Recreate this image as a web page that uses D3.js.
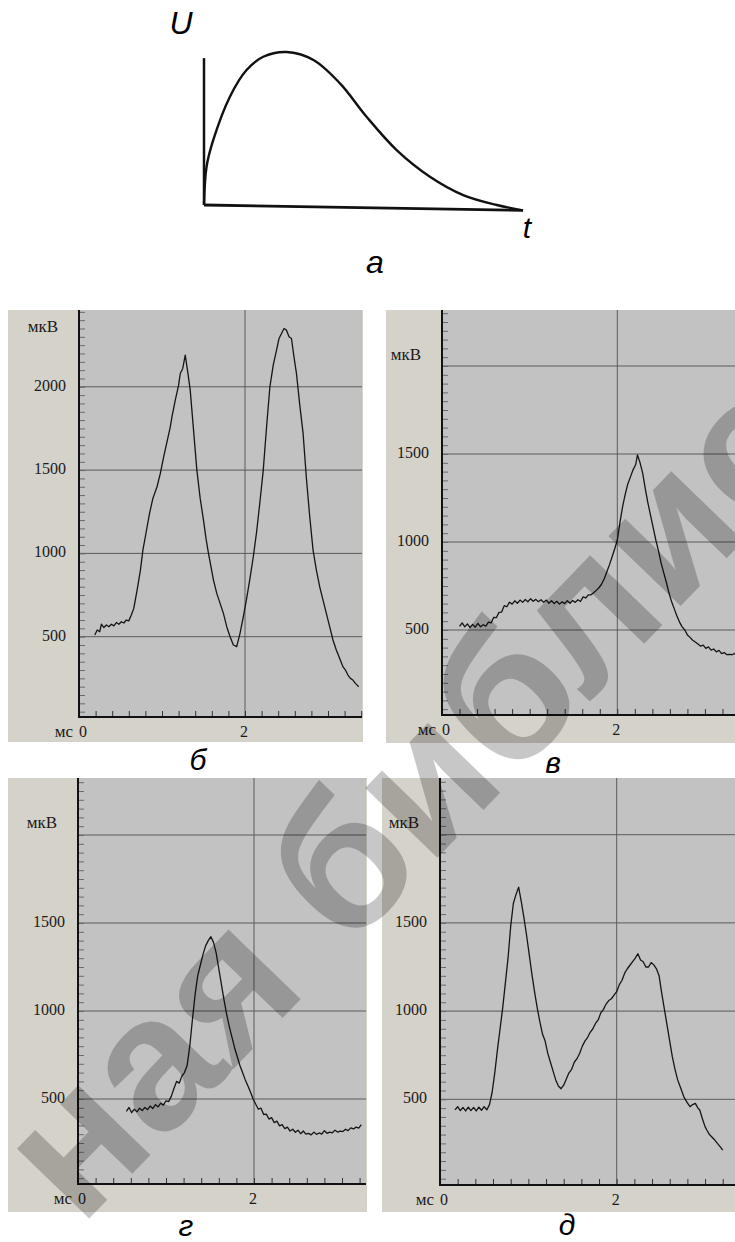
<!DOCTYPE html>
<html>
<head>
<meta charset="utf-8">
<script src="https://cdn.jsdelivr.net/npm/d3@7"></script>
<style>
  html, body { margin: 0; padding: 0; background: #fff; }
  svg { display: block; }
</style>
</head>
<body>
<svg id="chart" width="735" height="1242"></svg>
<script>
"use strict";

// --- data ---

// sketch (а): generic potential shape, arbitrary units
const sketchT = [0, 0.08, 0.29, 0.81, 1.33, 1.85, 2.58, 3.42, 4.25, 5.08, 6.02, 7.06, 8.10, 9.15, 9.97];
const sketchU = [0, 25, 42.5, 70.8, 88.2, 96.9, 100, 94.8, 79.5, 57.7, 35.9, 18.5, 6.5, 0, -3.5];
const sketchAxisTop = 96;

// oscillograms, time in ms, amplitude in мкВ
const timeB = [0.19, 0.22, 0.25, 0.27, 0.30, 0.33, 0.36, 0.39, 0.42, 0.45, 0.48, 0.51, 0.54, 0.57, 0.60, 0.63, 0.66,
  0.70, 0.74, 0.77, 0.81, 0.85, 0.89, 0.94, 0.98, 1.02, 1.06, 1.10, 1.12, 1.16, 1.20, 1.22, 1.25, 1.28, 1.31, 1.34,
  1.38, 1.42, 1.46, 1.50, 1.53, 1.56, 1.59, 1.62, 1.66, 1.70, 1.74, 1.78, 1.82, 1.86, 1.90, 1.94, 1.98, 2.02, 2.06,
  2.10, 2.14, 2.18, 2.22, 2.26, 2.30, 2.34, 2.38, 2.41, 2.44, 2.47, 2.50, 2.53, 2.56, 2.59, 2.62, 2.66, 2.70, 2.74,
  2.78, 2.82, 2.86, 2.90, 2.94, 2.98, 3.02, 3.06, 3.10, 3.14, 3.18, 3.21, 3.24, 3.27, 3.30, 3.33, 3.37];
const valueB = [510, 540, 530, 575, 555, 570, 560, 575, 565, 585, 575, 590, 582, 600, 595, 630, 670,
  780, 900, 1020, 1130, 1240, 1330, 1400, 1480, 1580, 1670, 1760, 1820, 1920, 2010, 2080, 2110, 2190, 2090, 1980,
  1740, 1500, 1330, 1200, 1090, 1000, 920, 840, 760, 700, 640, 560, 500, 450, 440, 520, 620, 730, 850,
  980, 1130, 1310, 1500, 1760, 2000, 2130, 2220, 2290, 2320, 2350, 2340, 2300, 2290, 2180, 2080, 1890, 1720, 1450,
  1220, 1020, 900, 800, 720, 640, 560, 480, 420, 370, 320, 300, 270, 250, 240, 220, 200];

const timeV = [0.20, 0.23, 0.26, 0.29, 0.32, 0.35, 0.38, 0.41, 0.44, 0.47, 0.50, 0.53, 0.56, 0.59, 0.62, 0.65, 0.68,
  0.71, 0.74, 0.77, 0.80, 0.83, 0.86, 0.89, 0.92, 0.95, 0.98, 1.01, 1.04, 1.07, 1.10, 1.13, 1.16, 1.19, 1.22, 1.25,
  1.28, 1.31, 1.34, 1.37, 1.40, 1.43, 1.46, 1.49, 1.52, 1.55, 1.58, 1.61, 1.64, 1.67, 1.70, 1.73, 1.76, 1.79, 1.82,
  1.85, 1.88, 1.91, 1.94, 1.97, 2.00, 2.03, 2.06, 2.09, 2.12, 2.15, 2.18, 2.21, 2.23, 2.26, 2.29, 2.32, 2.35, 2.38,
  2.41, 2.44, 2.47, 2.50, 2.53, 2.56, 2.59, 2.62, 2.65, 2.68, 2.71, 2.74, 2.77, 2.80, 2.83, 2.86, 2.89, 2.92, 2.95,
  2.98, 3.01, 3.04, 3.07, 3.10, 3.13, 3.16, 3.19, 3.22, 3.25, 3.28, 3.31, 3.35];
const valueV = [520, 540, 518, 535, 514, 532, 516, 538, 518, 530, 522, 545, 540, 572, 570, 600, 602,
  638, 632, 658, 647, 666, 652, 670, 657, 673, 660, 678, 663, 674, 661, 672, 657, 670, 652, 666,
  650, 663, 647, 660, 650, 666, 652, 668, 657, 672, 662, 688, 682, 700, 700, 712, 725, 740, 760,
  790, 830, 870, 915, 960, 1010, 1110, 1200, 1270, 1330, 1370, 1410, 1440, 1495, 1450, 1390, 1300, 1220, 1150,
  1080, 1010, 950, 880, 825, 770, 710, 660, 620, 580, 545, 518, 500, 472, 458, 442, 432, 420, 408,
  414, 396, 404, 386, 392, 376, 384, 366, 372, 360, 362, 360, 368];

const timeG = [0.55, 0.58, 0.61, 0.64, 0.67, 0.70, 0.73, 0.76, 0.79, 0.82, 0.85, 0.88, 0.91, 0.94, 0.97, 1.00, 1.03,
  1.06, 1.09, 1.12, 1.15, 1.18, 1.21, 1.24, 1.27, 1.30, 1.33, 1.36, 1.39, 1.42, 1.45, 1.48, 1.51, 1.54, 1.57, 1.60,
  1.63, 1.66, 1.69, 1.72, 1.75, 1.78, 1.81, 1.84, 1.87, 1.90, 1.93, 1.96, 1.99, 2.02, 2.05, 2.08, 2.11, 2.14, 2.17,
  2.20, 2.23, 2.26, 2.29, 2.32, 2.35, 2.38, 2.41, 2.44, 2.47, 2.50, 2.53, 2.56, 2.59, 2.62, 2.65, 2.68, 2.71, 2.74,
  2.77, 2.80, 2.83, 2.86, 2.89, 2.92, 2.95, 2.98, 3.01, 3.04, 3.07, 3.10, 3.13, 3.16, 3.19, 3.22];
const valueG = [430, 452, 422, 442, 427, 448, 434, 452, 440, 460, 446, 468, 455, 476, 465, 490, 485,
  515, 560, 600, 590, 630, 650, 690, 800, 950, 1090, 1200, 1260, 1320, 1370, 1400, 1422, 1390, 1330, 1240,
  1150, 1060, 980, 910, 850, 790, 740, 690, 650, 610, 575, 540, 500, 470, 442, 448, 412, 414, 386,
  394, 366, 374, 347, 354, 332, 340, 318, 328, 311, 323, 303, 318, 300, 305, 296, 312, 299, 307,
  301, 320, 305, 312, 308, 323, 312, 318, 315, 328, 320, 336, 330, 340, 335, 355];

const timeD = [0.17, 0.20, 0.23, 0.26, 0.29, 0.32, 0.35, 0.38, 0.41, 0.44, 0.47, 0.50, 0.53, 0.56, 0.59, 0.62, 0.65,
  0.68, 0.71, 0.74, 0.77, 0.80, 0.83, 0.86, 0.89, 0.92, 0.95, 0.98, 1.01, 1.04, 1.07, 1.10, 1.13, 1.16, 1.19, 1.22,
  1.25, 1.28, 1.31, 1.34, 1.37, 1.40, 1.43, 1.46, 1.49, 1.52, 1.55, 1.58, 1.61, 1.64, 1.67, 1.70, 1.73, 1.76, 1.79,
  1.82, 1.85, 1.88, 1.91, 1.94, 1.97, 2.00, 2.03, 2.06, 2.09, 2.12, 2.15, 2.18, 2.21, 2.24, 2.27, 2.30, 2.33, 2.36,
  2.39, 2.42, 2.45, 2.48, 2.51, 2.54, 2.57, 2.60, 2.63, 2.66, 2.69, 2.72, 2.76, 2.80, 2.83, 2.86, 2.89, 2.92, 2.94,
  2.97, 3.00, 3.02, 3.05, 3.08, 3.11, 3.14, 3.17, 3.20];
const valueD = [440, 458, 436, 454, 434, 456, 436, 454, 434, 456, 438, 458, 440, 470, 540, 650, 780,
  900, 1020, 1160, 1300, 1480, 1610, 1660, 1703, 1620, 1530, 1430, 1320, 1210, 1110, 1020, 940, 870, 830, 760,
  710, 660, 610, 575, 560, 580, 615, 650, 670, 710, 730, 760, 800, 830, 850, 880, 900, 930, 950,
  990, 1010, 1040, 1060, 1070, 1090, 1110, 1150, 1175, 1215, 1240, 1260, 1280, 1300, 1325, 1290, 1280, 1250, 1250,
  1275, 1262, 1240, 1200, 1100, 1010, 920, 830, 740, 670, 610, 570, 514, 480, 458, 470, 477, 450, 439,
  390, 345, 326, 300, 285, 269, 250, 232, 212];

const yTickLabels = [500, 1000, 1500, 2000];
const xTickLabels = [0, 2];
const unitY = "мкВ";
const unitX = "мс";
const captions = ["а", "б", "в", "г", "д"];

// --- layout (pixels) ---
const panels = [
  { left: 8, top: 310, right: 363, bottom: 742, axisX: 79, axisY: 717, zeroY: 720, y500: 636.7, gridX: 245,
    unitBase: 332, capX: 198, capY: 770, times: timeB, values: valueB, caption: captions[1] },
  { left: 386, top: 310, right: 745, bottom: 743, axisX: 442, axisY: 715, zeroY: 718, y500: 630, gridX: 617.3,
    unitBase: 360, capX: 553, capY: 773, times: timeV, values: valueV, caption: captions[2] },
  { left: 8, top: 778, right: 367, bottom: 1212, axisX: 78, axisY: 1184, zeroY: 1187, y500: 1099, gridX: 254,
    unitBase: 828, capX: 186, capY: 1236, times: timeG, values: valueG, caption: captions[3] },
  { left: 382, top: 778, right: 745, bottom: 1212, axisX: 440, axisY: 1185, zeroY: 1187.5, y500: 1099.3, gridX: 616.7,
    unitBase: 828, capX: 567, capY: 1235, times: timeD, values: valueD, caption: captions[4] },
];

const svg = d3.select("#chart");
const labelFont = "'Liberation Serif', 'DejaVu Serif', serif";
const captionFont = "'Liberation Sans', Arial, sans-serif";

// --- sketch а ---
const sx = d3.scaleLinear().domain([0, 10]).range([204, 524]);
const sy = d3.scaleLinear().domain([0, 100]).range([205, 52]);
const sketch = svg.append("g");

sketch.append("line")
  .attr("x1", sx(0)).attr("y1", sy(0))
  .attr("x2", sx(0)).attr("y2", sy(sketchAxisTop))
  .attr("stroke", "#111").attr("stroke-width", 2.5);

sketch.append("line")
  .attr("x1", sx(0)).attr("y1", sy(0))
  .attr("x2", sx(sketchT[sketchT.length - 1])).attr("y2", sy(sketchU[sketchU.length - 1]))
  .attr("stroke", "#111").attr("stroke-width", 2.8);

sketch.append("path")
  .datum(d3.zip(sketchT, sketchU))
  .attr("fill", "none").attr("stroke", "#111").attr("stroke-width", 2.4)
  .attr("d", d3.line().x(d => sx(d[0])).y(d => sy(d[1])).curve(d3.curveCatmullRom.alpha(0.5)));

sketch.append("text").attr("x", 181).attr("y", 34).attr("text-anchor", "middle")
  .style("font", "italic 32px " + captionFont).text("U");
sketch.append("text").attr("x", 527).attr("y", 238).attr("text-anchor", "middle")
  .style("font", "italic 30px " + captionFont).text("t");
sketch.append("text").attr("x", 375).attr("y", 273).attr("text-anchor", "middle")
  .style("font", "italic 32px " + captionFont).text(captions[0]);

// --- oscillogram panels ---
function drawPanel(p) {
  const g = svg.append("g");
  const x = d3.scaleLinear().domain([0, 2]).range([p.axisX, p.gridX]);
  const y = d3.scaleLinear().domain([0, 500]).range([p.zeroY, p.y500]);
  const tMax = x.invert(p.right);
  const vMax = y.invert(p.top);

  // window frame and plot field
  g.append("rect")
    .attr("x", p.left).attr("y", p.top)
    .attr("width", p.right - p.left).attr("height", p.bottom - p.top)
    .attr("fill", "#d5d2ca");
  g.append("rect")
    .attr("x", p.axisX).attr("y", p.top)
    .attr("width", p.right - 1 - p.axisX).attr("height", p.axisY - p.top)
    .attr("fill", "#c2c2c2");

  // grid
  g.selectAll(".hgrid")
    .data(yTickLabels.filter(v => v < vMax))
    .join("line")
    .attr("x1", p.axisX).attr("x2", p.right - 1)
    .attr("y1", d => y(d)).attr("y2", d => y(d))
    .attr("stroke", "#5a5a5a").attr("stroke-width", 1);
  g.append("line")
    .attr("x1", x(2)).attr("x2", x(2))
    .attr("y1", p.top).attr("y2", p.axisY)
    .attr("stroke", "#5a5a5a").attr("stroke-width", 1);

  // minor ticks
  const yAxis = d3.axisRight(y)
    .tickValues(d3.range(50, vMax, 50))
    .tickSize(6)
    .tickFormat("");
  g.append("g").attr("transform", `translate(${p.axisX},0)`).call(yAxis)
    .call(a => a.select(".domain").remove())
    .call(a => a.selectAll("line").attr("stroke", "#6a6a6a"));

  const xAxis = d3.axisTop(x)
    .tickValues(d3.range(0.2, tMax, 0.2))
    .tickSize(6)
    .tickFormat("");
  g.append("g").attr("transform", `translate(0,${p.axisY})`).call(xAxis)
    .call(a => a.select(".domain").remove())
    .call(a => a.selectAll("line").attr("stroke", "#333"));

  // axis lines
  g.append("line")
    .attr("x1", p.axisX).attr("x2", p.axisX)
    .attr("y1", p.top).attr("y2", p.axisY + 1)
    .attr("stroke", "#111").attr("stroke-width", 2);
  g.append("line")
    .attr("x1", p.axisX).attr("x2", p.right - 1)
    .attr("y1", p.axisY).attr("y2", p.axisY)
    .attr("stroke", "#111").attr("stroke-width", 2);

  // signal
  g.append("path")
    .datum(d3.zip(p.times, p.values))
    .attr("fill", "none").attr("stroke", "#151515").attr("stroke-width", 1.3)
    .attr("stroke-linejoin", "round")
    .attr("d", d3.line().x(d => x(d[0])).y(d => y(d[1])));

  // labels
  const labelled = yTickLabels.filter(v => y(v) > p.unitBase + 10);
  g.selectAll(".ylab")
    .data(labelled)
    .join("text")
    .attr("x", p.axisX - 13).attr("y", d => y(d) + 4)
    .attr("text-anchor", "end")
    .style("font", "16px " + labelFont).attr("fill", "#1a1a1a")
    .text(d => d);
  g.append("text")
    .attr("x", p.axisX - 36).attr("y", p.unitBase)
    .attr("text-anchor", "middle")
    .style("font", "17px " + labelFont).attr("fill", "#1a1a1a")
    .text(unitY);

  g.append("text")
    .attr("x", p.axisX - 6).attr("y", p.axisY + 20)
    .attr("text-anchor", "end")
    .style("font", "17px " + labelFont).attr("fill", "#1a1a1a")
    .text(unitX);
  g.selectAll(".xlab")
    .data(xTickLabels)
    .join("text")
    .attr("x", d => d === 0 ? x(d) + 4 : x(d) - 1).attr("y", p.axisY + 20)
    .attr("text-anchor", "middle")
    .style("font", "16px " + labelFont).attr("fill", "#1a1a1a")
    .text(d => d);

  svg.append("text")
    .attr("x", p.capX).attr("y", p.capY)
    .attr("text-anchor", "middle")
    .style("font", "italic 30px " + captionFont)
    .text(p.caption);
}

panels.forEach(drawPanel);

// library watermark laid over the page
svg.append("text")
  .attr("transform", "translate(80,1228) rotate(-46)")
  .style("font", "bold 190px " + captionFont)
  .attr("fill", "#000").attr("fill-opacity", 0.22)
  .text("ная библиотека");
</script>
</body>
</html>
